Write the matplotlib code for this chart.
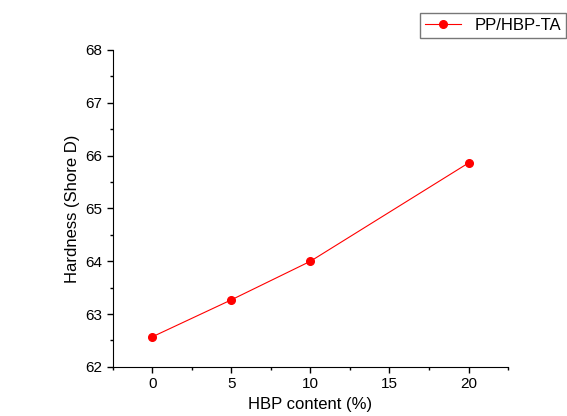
import matplotlib
matplotlib.use("Agg")
import matplotlib.pyplot as plt
from matplotlib.ticker import MultipleLocator

plt.rcParams['font.family'] = ['Liberation Sans', 'DejaVu Sans']

hbp_content = [0, 5, 10, 20]
hardness = [62.57, 63.27, 64.0, 65.86]

fig = plt.figure(figsize=(5.67, 4.16), dpi=100)
ax = fig.add_axes([0.199, 0.118, 0.697, 0.762])

ax.plot(hbp_content, hardness, color='red', lw=0.8, marker='o', ms=5.5,
        label='PP/HBP-TA')

ax.set_xlim(-2.5, 22.5)
ax.set_ylim(62, 68)
ax.xaxis.set_major_locator(MultipleLocator(5))
ax.xaxis.set_minor_locator(MultipleLocator(2.5))
ax.yaxis.set_major_locator(MultipleLocator(1))
ax.yaxis.set_minor_locator(MultipleLocator(0.5))
ax.tick_params(which='major', direction='out', length=4, width=1, labelsize=11)
ax.tick_params(which='minor', direction='out', length=2.5, width=1)
ax.spines['top'].set_visible(False)
ax.spines['right'].set_visible(False)

ax.set_xlabel('HBP content (%)', fontsize=12)
ax.set_ylabel('Hardness (Shore D)', fontsize=12)

# legend sits in the top right corner, against the figure edge
leg = fig.legend(loc='upper right', bbox_to_anchor=(0.999, 0.968), fontsize=12,
                 frameon=True, fancybox=False, borderpad=0.3, handlelength=2.2,
                 borderaxespad=0)
leg.get_frame().set_edgecolor('#555555')
leg.get_frame().set_linewidth(1)

fig.savefig('out.png', dpi=100)
